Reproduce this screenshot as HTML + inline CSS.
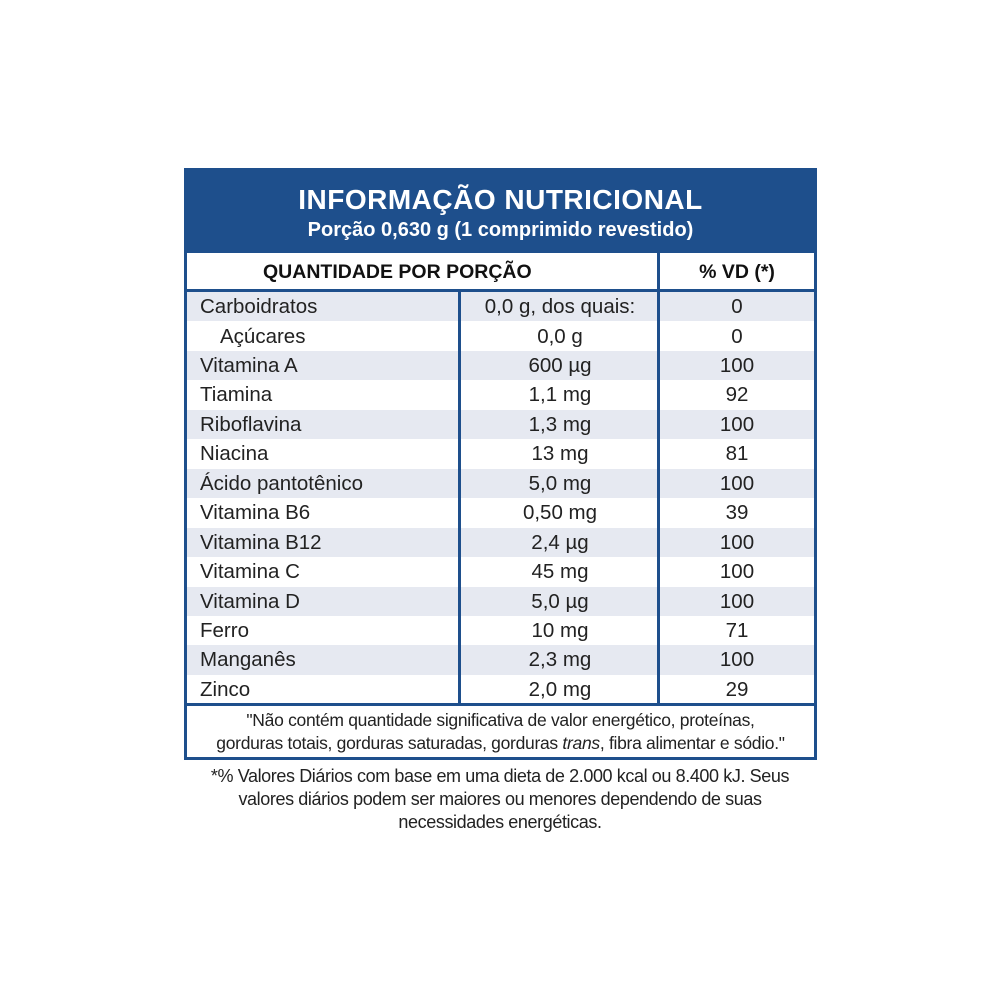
<!DOCTYPE html>
<html><head><meta charset="utf-8"><style>
body{margin:0;width:1000px;height:1000px;background:#fff;font-family:"Liberation Sans",sans-serif;position:relative;overflow:hidden}
.box{position:absolute;left:184px;top:168px;width:627px;height:586px;border:3px solid #1e4f8c;background:#fff}
.hdr{position:absolute;left:0;top:0;width:627px;height:82px;background:#1e4f8c;color:#fff;text-align:center}
.t1{position:absolute;top:13px;width:100%;font-weight:bold;font-size:28px;letter-spacing:0.5px}
.t2{position:absolute;top:48px;width:100%;font-weight:bold;font-size:20px}
.hr{position:absolute;left:0;top:82px;width:627px;height:36px;border-bottom:3px solid #1e4f8c;font-weight:bold;font-size:19.5px;color:#111}
.row{position:absolute;left:0;width:627px;height:29.45px;font-size:20.5px;color:#222;line-height:29px}
.sh{background:#e6e9f1}
.c1{position:absolute;left:13px}
.c2{position:absolute;left:275px;width:196px;text-align:center}
.c3{position:absolute;left:473px;width:154px;text-align:center}
.vl{position:absolute;width:3px;background:#1e4f8c}
.ft{position:absolute;left:0;top:532px;width:627px;height:54px;border-top:3px solid #1e4f8c;text-align:center;font-size:17.5px;line-height:23px;color:#222;padding-top:3px;box-sizing:border-box;letter-spacing:-0.3px;white-space:nowrap}
.note{position:absolute;left:150px;top:765px;width:700px;text-align:center;font-size:18px;line-height:23px;color:#222;letter-spacing:-0.4px}
</style></head><body>
<div class="box">
<div class="hdr"><div class="t1">INFORMAÇÃO NUTRICIONAL</div><div class="t2">Porção 0,630 g (1 comprimido revestido)</div></div>
<div class="hr"><span style="position:absolute;left:76px;top:8px">QUANTIDADE POR PORÇÃO</span><span style="position:absolute;left:473px;width:154px;text-align:center;top:8px">% VD (*)</span></div>
<div class="row sh" style="top:121px"><span class="c1">Carboidratos</span><span class="c2">0,0 g, dos quais:</span><span class="c3">0</span></div>
<div class="row" style="top:150.5px"><span class="c1" style="left:33px">Açúcares</span><span class="c2">0,0 g</span><span class="c3">0</span></div>
<div class="row sh" style="top:180px"><span class="c1">Vitamina A</span><span class="c2">600 µg</span><span class="c3">100</span></div>
<div class="row" style="top:209.4px"><span class="c1">Tiamina</span><span class="c2">1,1 mg</span><span class="c3">92</span></div>
<div class="row sh" style="top:238.8px"><span class="c1">Riboflavina</span><span class="c2">1,3 mg</span><span class="c3">100</span></div>
<div class="row" style="top:268.3px"><span class="c1">Niacina</span><span class="c2">13 mg</span><span class="c3">81</span></div>
<div class="row sh" style="top:297.7px"><span class="c1">Ácido pantotênico</span><span class="c2">5,0 mg</span><span class="c3">100</span></div>
<div class="row" style="top:327.2px"><span class="c1">Vitamina B6</span><span class="c2">0,50 mg</span><span class="c3">39</span></div>
<div class="row sh" style="top:356.6px"><span class="c1">Vitamina B12</span><span class="c2">2,4 µg</span><span class="c3">100</span></div>
<div class="row" style="top:386px"><span class="c1">Vitamina C</span><span class="c2">45 mg</span><span class="c3">100</span></div>
<div class="row sh" style="top:415.5px"><span class="c1">Vitamina D</span><span class="c2">5,0 µg</span><span class="c3">100</span></div>
<div class="row" style="top:445px"><span class="c1">Ferro</span><span class="c2">10 mg</span><span class="c3">71</span></div>
<div class="row sh" style="top:474.4px"><span class="c1">Manganês</span><span class="c2">2,3 mg</span><span class="c3">100</span></div>
<div class="row" style="top:503.8px"><span class="c1">Zinco</span><span class="c2">2,0 mg</span><span class="c3">29</span></div>
<div class="vl" style="left:271px;top:118px;height:414px"></div>
<div class="vl" style="left:470px;top:82px;height:450px"></div>
<div class="ft">"Não contém quantidade significativa de valor energético, proteínas,<br>gorduras totais, gorduras saturadas, gorduras <i>trans</i>, fibra alimentar e sódio."</div>
</div>
<div class="note">*% Valores Diários com base em uma dieta de 2.000 kcal ou 8.400 kJ. Seus<br>valores diários podem ser maiores ou menores dependendo de suas<br>necessidades energéticas.</div>
</body></html>
